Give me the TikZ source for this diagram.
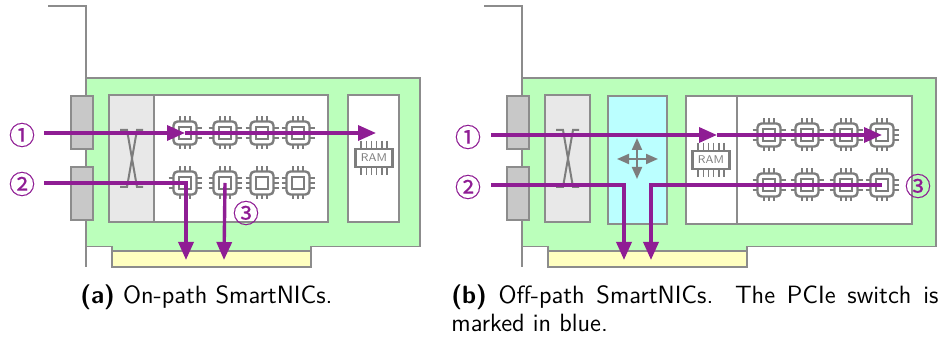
\documentclass[tikz,border=0pt]{standalone}
\usepackage{fontspec}
\usepackage{xcolor}
\usetikzlibrary{arrows.meta}
\newfontfamily\numfont[FakeBold=0.4]{Noto Sans CJK JP}
\definecolor{mygreen}{RGB}{187,255,187}
\definecolor{myyellow}{RGB}{255,255,192}
\definecolor{myblue}{RGB}{187,255,255}
\definecolor{mygray}{RGB}{140,140,140}
\definecolor{myicon}{RGB}{125,125,125}
\definecolor{myport}{RGB}{200,200,200}
\definecolor{mylight}{RGB}{232,232,232}
\definecolor{mypurple}{RGB}{143,29,148}
\tikzset{
  box/.style={rectangle, draw=mygray, line width=0.6pt, inner sep=0pt, outer sep=0pt},
  sized/.style 2 args={minimum width=#1*0.5pt, minimum height=#2*0.5pt},
  rambox/.style={box, draw=myicon, fill=white, line width=1.1pt, sized={37}{18},
    text=myicon, font=\sffamily\fontsize{5.6}{6}\selectfont},
  flow/.style={-{Triangle[length=9pt, width=7.5pt]}, line width=1.7pt, color=mypurple},
  num/.style={text=mypurple, inner sep=0pt, font=\numfont\fontsize{13}{13}\selectfont},
  captext/.style={inner sep=0pt, font=\sffamily\fontsize{12.5}{14}\selectfont},
  chip/.pic={
    \foreach \d in {-5,0,5} {
      \draw[myicon, line width=0.7pt] (\d,-16.5) -- (\d,16.5);
      \draw[myicon, line width=0.7pt] (-16.5,\d) -- (16.5,\d);
    }
    \node[box, draw=myicon, fill=white, line width=1.2pt, sized={23}{23}, rounded corners=2pt] (-body) at (0,0) {};
    \node[box, draw=myicon, fill=white, line width=1pt, sized={12}{12}] (-core) at (0,0) {};
  },
  ram/.pic={
    \foreach \d in {-13,-7.8,-2.6,2.6,7.8,13}
      \draw[myicon, line width=0.7pt] (\d,-17) -- (\d,17);
    \node[rambox] (-body) at (0,0) {RAM};
  },
  card/.pic={
    \draw[mygray, line width=0.6pt] (48,6) -- (86,6) -- (86,267);
    \node[box, fill=myyellow, sized={199}{21}] (-edge) at (211.5,256.5) {};
    \draw[mygray, fill=mygreen, line width=0.6pt] (86,78) -- (#1,78) -- (#1,246.5) -- (311,246.5)
      -- (311,251) -- (112,251) -- (112,246.5) -- (86,246.5) -- cycle;
    \node[box, fill=myport, sized={22}{53}] (-up) at (82,122.5) {};
    \node[box, fill=myport, sized={22}{53}] (-down) at (82,193.5) {};
    \node[box, fill=mylight, sized={45}{127}] (-phy) at (131.5,158.5) {};
    \draw[myicon, line width=1pt] (120,130) -- (127,130) -- (137,187) -- (143,187);
    \draw[myicon, line width=1pt] (143,130) -- (137,130) -- (127,187) -- (120,187);
  }
}
\begin{document}
\begin{tikzpicture}[x=0.5pt, y=-0.5pt]
  \useasboundingbox (0,0) rectangle (939,340);
  % On-path card
  \pic (cA) at (0,0) {card=420};
  \node[box, fill=white, sized={174}{127}] (coresA) at (241,158.5) {};
  \node[box, fill=white, sized={51}{127}] (memA) at (373.5,158.5) {};
  \pic (ramA) at (374,158) {ram};
  \foreach \row/\y in {1/133,2/183}
    \foreach \col/\x in {1/185,2/225,3/262,4/298}
      \pic (a\row\col) at (\x,\y) {chip};
  % Off-path card
  \pic (cB) at (436,0) {card=500};
  \node[box, fill=myblue, sized={59}{128}] (pcie) at (637.5,160) {};
  \node[box, fill=white, sized={51}{128}] (memB) at (711.5,160) {};
  \node[box, fill=white, sized={175}{128}] (coresB) at (824.5,160) {};
  \pic (ramB) at (711,160) {ram};
  \foreach \row/\y in {1/135,2/185}
    \foreach \col/\x in {1/769,2/807,3/846,4/882}
      \pic (b\row\col) at (\x,\y) {chip};
  \draw[myicon, {Triangle[length=6pt, width=5pt]}-{Triangle[length=6pt, width=5pt]}, line width=1pt] (617,159) -- (658,159);
  \draw[myicon, {Triangle[length=6pt, width=5pt]}-{Triangle[length=6pt, width=5pt]}, line width=1pt] (637,138) -- (637,179);

  % Free ends of the paths
  \coordinate (inA1) at (44,133);
  \coordinate (inA2) at (44,183);
  \coordinate (outA1) at (376,133);
  \coordinate (hostA2) at (186,260);
  \coordinate (hostA3) at (224,260);
  \coordinate (inB1) at (491,135);
  \coordinate (inB2) at (491,185);
  \coordinate (midB1) at (717,135);
  \coordinate (hostB2) at (624,260);
  \coordinate (hostB3) at (651,260);

  \draw[flow] (inA1) -- (a11-core.center);
  \draw[flow] (a11-core.center) -- (outA1);
  \draw[flow] (inA2) -| (hostA2);
  \draw[flow] (a22-core.center) -- (hostA3);
  \draw[flow] (inB1) -- (midB1);
  \draw[flow] (midB1) -- (b14-core.center);
  \draw[flow] (inB2) -| (hostB2);
  \draw[flow] (b24-core.center) -| (hostB3);

  \node[num] (n1a) at (22,135) {①};
  \node[num] (n2a) at (22,184) {②};
  \node[num] (n3a) at (246,213) {③};
  \node[num] (n1b) at (468,137) {①};
  \node[num] (n2b) at (468,187) {②};
  \node[num] (n3b) at (918,186) {③};

  \node[captext, anchor=base west] (capA) at (80,304) {\textbf{(a)} On-path SmartNICs.};
  \node[captext, anchor=base west, text width=243.5pt, align=justify] (capB) at (451,304)
    {\textbf{(b)} Off-path SmartNICs.  The PCIe switch is marked in blue.};
\end{tikzpicture}
\end{document}
